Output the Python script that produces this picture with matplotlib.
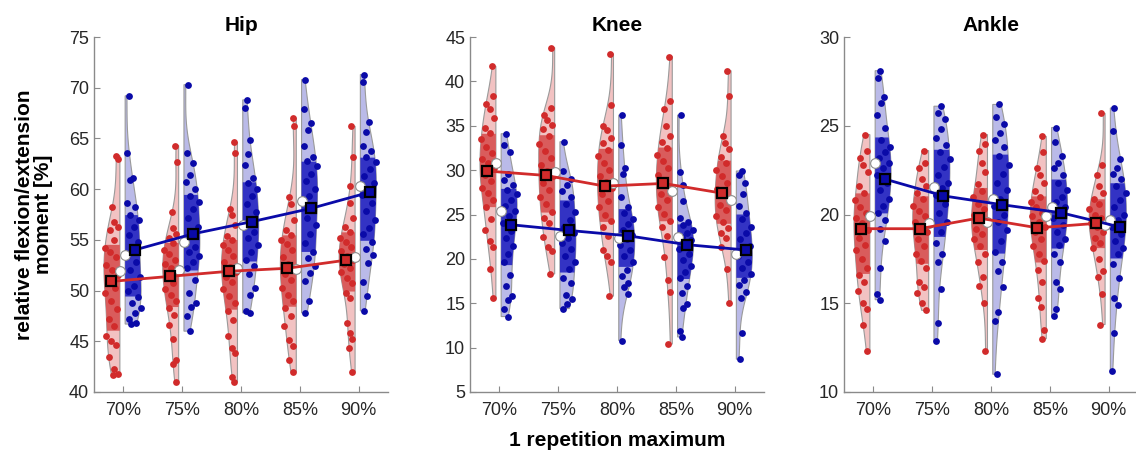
import numpy as np
import matplotlib.pyplot as plt

plt.rcParams['font.family'] = ['Liberation Sans', 'DejaVu Sans']

labels = ['70%', '75%', '80%', '85%', '90%']

# ---- Hip ----
hip_red = [
    [63.3, 63.0, 58.2, 56.8, 56.3, 56.0, 55.0, 54.2, 53.8, 53.3, 52.5, 52.0, 51.5, 51.0,
     50.3, 49.8, 49.0, 48.2, 47.2, 46.5, 45.5, 45.0, 44.6, 43.5, 42.3, 41.8, 41.7],
    [64.3, 62.7, 57.7, 56.2, 55.6, 55.2, 54.7, 54.0, 53.6, 53.0, 52.6, 52.2, 51.8, 51.3,
     50.7, 50.2, 49.6, 49.0, 48.3, 47.6, 46.6, 45.2, 43.2, 42.8, 41.0],
    [64.6, 63.6, 58.0, 57.5, 56.5, 55.4, 55.0, 54.5, 54.0, 53.4, 52.8, 52.3, 51.8, 51.3,
     50.8, 50.2, 49.5, 48.8, 48.0, 47.1, 45.5, 44.3, 43.8, 41.5, 41.0],
    [67.0, 66.2, 59.2, 58.5, 57.0, 56.0, 55.5, 55.0, 54.6, 54.0, 53.3, 52.6, 52.1, 51.6,
     51.0, 50.3, 49.6, 49.0, 48.3, 47.5, 46.5, 45.1, 44.5, 43.2, 42.0],
    [66.2, 63.2, 60.3, 58.6, 57.2, 56.3, 55.8, 55.2, 54.8, 54.3, 53.9, 53.4, 53.0, 52.6,
     52.2, 51.8, 51.2, 50.7, 49.8, 49.3, 46.8, 45.8, 45.2, 44.3, 42.0],
]
hip_blue = [
    [69.2, 63.6, 61.1, 60.9, 58.6, 58.2, 57.5, 57.0, 56.3, 55.5, 54.8, 54.0, 53.4, 52.8,
     52.0, 51.3, 50.5, 50.0, 49.4, 48.8, 48.3, 47.8, 47.2, 46.8, 46.7],
    [70.3, 63.6, 62.6, 61.4, 60.7, 60.0, 59.3, 58.7, 58.0, 57.2, 56.3, 55.5, 54.9, 54.3,
     53.8, 53.4, 52.8, 52.2, 51.0, 49.8, 48.8, 48.4, 47.5, 46.0],
    [68.8, 68.0, 64.8, 63.5, 62.4, 61.1, 60.6, 60.0, 59.3, 58.5, 57.7, 57.0, 56.4, 55.8,
     55.2, 54.5, 53.8, 53.0, 52.4, 51.6, 50.3, 49.6, 48.0, 47.8],
    [70.8, 67.9, 66.5, 65.8, 64.3, 63.2, 62.8, 62.3, 61.5, 60.8, 60.0, 59.3, 58.7, 58.0,
     57.2, 56.5, 55.6, 54.7, 53.8, 53.2, 52.4, 51.7, 50.9, 49.0, 47.8],
    [71.3, 70.6, 66.6, 65.6, 64.3, 63.8, 63.2, 62.7, 62.0, 61.3, 60.6, 60.0, 59.4, 58.6,
     57.8, 57.0, 56.2, 55.6, 54.8, 54.1, 53.5, 52.7, 50.8, 49.5, 48.0],
]
hip_red_mean = [50.9, 51.4, 51.9, 52.2, 53.0]
hip_blue_mean = [54.0, 55.6, 56.8, 58.1, 59.7]
hip_red_median = [51.9, 52.0, 52.2, 52.1, 53.3]
hip_blue_median = [53.5, 54.8, 56.5, 58.8, 60.3]

# ---- Knee ----
knee_red = [
    [41.7, 38.4, 37.4, 36.9, 35.9, 34.8, 34.2, 33.5, 32.6, 31.9, 31.2, 30.8, 30.2, 29.5,
     28.8, 28.0, 27.4, 26.6, 25.8, 24.5, 23.3, 22.0, 21.3, 18.9, 15.6],
    [43.8, 37.0, 36.2, 35.6, 35.1, 34.6, 33.8, 33.0, 32.2, 31.4, 30.6, 29.9, 29.3, 28.6,
     27.8, 27.0, 26.2, 25.3, 24.6, 24.0, 22.5, 21.3, 20.9, 18.3],
    [43.1, 37.3, 35.0, 34.5, 33.6, 33.1, 32.3, 31.6, 30.8, 30.0, 29.3, 28.7, 28.0, 27.3,
     26.5, 25.8, 25.0, 24.3, 23.6, 22.6, 21.0, 20.3, 19.6, 15.8],
    [42.8, 37.8, 36.9, 35.0, 33.8, 33.2, 32.5, 31.7, 31.0, 30.2, 29.4, 28.6, 27.9, 27.3,
     26.6, 25.9, 25.1, 24.3, 23.6, 22.6, 20.2, 17.6, 16.3, 10.4],
    [41.2, 38.3, 33.8, 33.1, 32.4, 31.5, 30.8, 30.0, 29.3, 28.6, 27.9, 27.3, 26.7, 26.1,
     25.5, 24.8, 24.2, 23.5, 22.9, 22.3, 21.3, 18.9, 15.0],
]
knee_blue = [
    [34.1, 32.8, 32.0, 29.6, 28.9, 28.3, 27.8, 27.3, 26.6, 26.0, 25.4, 24.8, 24.0, 23.1,
     22.3, 21.5, 20.5, 19.6, 18.2, 16.9, 15.8, 15.4, 14.4, 13.5],
    [33.2, 29.9, 29.0, 28.3, 27.7, 27.0, 26.2, 25.3, 24.4, 23.6, 22.9, 22.4, 21.8, 21.1,
     20.3, 19.6, 18.9, 17.9, 17.3, 15.9, 15.5, 14.9, 14.4],
    [36.2, 32.8, 30.2, 29.6, 27.0, 25.8, 25.2, 24.5, 23.9, 23.3, 22.7, 22.2, 21.6, 21.0,
     20.3, 19.6, 18.8, 18.1, 17.3, 16.8, 16.0, 10.8],
    [36.2, 29.8, 28.3, 26.5, 24.6, 24.2, 23.8, 23.3, 22.9, 22.5, 22.1, 21.6, 21.1, 20.5,
     19.9, 19.2, 18.5, 17.9, 17.0, 16.2, 14.9, 14.5, 11.9, 11.2],
    [29.9, 29.5, 28.5, 27.3, 26.0, 25.2, 24.5, 23.6, 22.9, 22.2, 21.5, 20.8, 20.3, 19.7,
     19.0, 18.3, 17.6, 17.1, 16.3, 15.6, 11.7, 8.7],
]
knee_red_mean = [29.9, 29.4, 28.2, 28.5, 27.4]
knee_blue_mean = [23.85, 23.2, 22.6, 21.6, 21.0]
knee_red_median = [30.75, 29.8, 28.6, 27.7, 26.6]
knee_blue_median = [25.4, 22.6, 22.3, 22.45, 20.6]

# ---- Ankle ----
ankle_red = [
    [24.5, 23.6, 23.2, 22.8, 22.4, 21.6, 21.2, 20.8, 20.4, 20.1, 19.8, 19.5, 19.1, 18.7,
     18.3, 18.0, 17.5, 17.0, 16.6, 16.2, 15.7, 15.0, 14.7, 13.8, 12.3],
    [23.6, 22.9, 22.6, 22.0, 21.6, 21.2, 20.9, 20.5, 20.2, 19.9, 19.6, 19.3, 19.0, 18.6,
     18.2, 17.8, 17.4, 17.0, 16.2, 15.9, 15.6, 15.0, 14.6],
    [24.5, 24.0, 23.6, 22.9, 22.4, 21.7, 21.3, 21.0, 20.6, 20.3, 20.0, 19.7, 19.5, 19.2,
     18.9, 18.6, 18.2, 17.8, 17.3, 16.5, 16.0, 15.0, 12.3],
    [24.4, 23.5, 22.6, 22.2, 21.8, 21.3, 21.0, 20.7, 20.4, 20.1, 19.9, 19.6, 19.3, 19.0,
     18.6, 18.2, 17.8, 17.4, 16.9, 16.2, 15.3, 14.8, 13.5, 13.0],
    [25.7, 22.8, 22.2, 21.6, 21.2, 20.9, 20.6, 20.3, 20.0, 19.8, 19.5, 19.3, 19.0, 18.7,
     18.4, 18.1, 17.5, 16.8, 16.5, 15.5, 13.8],
]
ankle_blue = [
    [28.1, 27.7, 26.6, 26.3, 25.6, 24.9, 24.2, 23.8, 23.5, 23.2, 22.9, 22.6, 22.2, 21.8,
     21.4, 20.9, 20.5, 20.1, 19.7, 19.2, 18.5, 17.0, 15.5, 15.2],
    [26.1, 25.7, 25.4, 24.8, 24.3, 23.9, 23.5, 23.1, 22.7, 22.2, 21.8, 21.5, 21.1, 20.6,
     20.1, 19.6, 19.0, 18.4, 17.8, 17.3, 15.8, 13.9, 12.9],
    [26.2, 25.5, 25.1, 24.6, 24.2, 23.8, 23.3, 22.8, 22.3, 21.8, 21.4, 20.9, 20.5, 20.0,
     19.6, 19.1, 18.5, 17.9, 17.3, 16.8, 15.9, 14.5, 14.0, 11.0],
    [24.9, 24.1, 23.3, 22.9, 22.6, 22.2, 21.8, 21.4, 21.0, 20.7, 20.4, 20.1, 19.8, 19.4,
     19.0, 18.6, 18.3, 17.8, 17.3, 16.2, 15.8, 14.7, 14.3],
    [26.0, 24.7, 23.1, 22.6, 22.3, 22.0, 21.6, 21.2, 20.8, 20.4, 20.0, 19.7, 19.3, 18.9,
     18.5, 18.1, 17.8, 17.2, 16.4, 15.3, 14.9, 13.3, 11.2],
]
ankle_red_mean = [19.2, 19.2, 19.8, 19.25, 19.5]
ankle_blue_mean = [22.0, 21.05, 20.55, 20.1, 19.3]
ankle_red_median = [19.9, 19.5, 19.55, 19.9, 19.4]
ankle_blue_median = [22.9, 21.55, 20.9, 20.4, 19.7]

# colours
red = (0.82, 0.17, 0.17)
blue = (0.04, 0.04, 0.66)
red_light = (0.95, 0.76, 0.76)
red_dark = (0.85, 0.36, 0.36)
blue_light = (0.73, 0.73, 0.91)
blue_dark = (0.2, 0.2, 0.77)
axis_gray = '#8a8a8a'


def kde(vals, grid):
    vals = np.asarray(vals)
    bw = 0.8 * 1.06 * vals.std() * len(vals) ** -0.2
    z = (grid[:, None] - vals[None, :]) / bw
    return np.exp(-0.5 * z ** 2).sum(axis=1)


def half_violin(ax, x0, vals, side, light, dark, dot):
    vals = np.asarray(vals)
    y = np.linspace(vals.min(), vals.max(), 200)
    w = kde(vals, y)
    w = w / w.max() * 0.27
    xs = x0 + side * w
    ax.fill(np.r_[x0, xs, x0], np.r_[y[0], y, y[-1]], facecolor=light,
            edgecolor='#9a9a9a', linewidth=0.8, zorder=1)
    q1, q3 = np.percentile(vals, [25, 75])
    m = (y >= q1) & (y <= q3)
    ax.fill(np.r_[x0, xs[m], x0], np.r_[y[m][0], y[m], y[m][-1]], facecolor=dark,
            edgecolor='none', zorder=2)
    # spread the dots across the half violin (fixed pattern)
    wv = np.interp(vals, y, w)
    u = np.mod((np.arange(len(vals)) + 1) * 0.618034, 1.0)
    xd = x0 + side * (0.02 + u * np.maximum(wv, 0.07))
    ax.scatter(xd, vals, s=24, color=dot, linewidths=0, zorder=3)


panels = [
    ('Hip', hip_red, hip_blue, hip_red_mean, hip_blue_mean, hip_red_median,
     hip_blue_median, (40, 75), np.arange(40, 76, 5), 94),
    ('Knee', knee_red, knee_blue, knee_red_mean, knee_blue_mean, knee_red_median,
     knee_blue_median, (5, 45), np.arange(5, 46, 5), 470),
    ('Ankle', ankle_red, ankle_blue, ankle_red_mean, ankle_blue_mean, ankle_red_median,
     ankle_blue_median, (10, 30), np.arange(10, 31, 5), 844),
]

W, H = 1136, 451
fig = plt.figure(figsize=(W / 100, H / 100), dpi=100)

x = np.arange(1, len(labels) + 1)
for k, (name, rd, bl, rmean, bmean, rmed, bmed, ylim, yt, left) in enumerate(panels):
    ax = fig.add_axes([left / W, (H - 392) / H, 294 / W, 355 / H])
    for i in range(len(labels)):
        half_violin(ax, x[i] - 0.06, rd[i], -1, red_light, red_dark, red)
        half_violin(ax, x[i] + 0.03, bl[i], 1, blue_light, blue_dark, blue)
    ax.plot(x - 0.06, rmed, 'o', ms=7, mfc='white', mec='#8c8c8c', mew=0.8, zorder=4)
    ax.plot(x + 0.03, bmed, 'o', ms=7, mfc='white', mec='#8c8c8c', mew=0.8, zorder=4)
    ax.plot(x - 0.21, rmean, '-', color=red, lw=2, zorder=5)
    ax.plot(x + 0.19, bmean, '-', color=blue, lw=2, zorder=5)
    ax.plot(x - 0.21, rmean, 's', ms=7.5, mfc=red, mec='black', mew=1.6, zorder=6)
    ax.plot(x + 0.19, bmean, 's', ms=7.5, mfc=blue, mec='black', mew=1.6, zorder=6)

    ax.set_xlim(0.5, 5.5)
    ax.set_ylim(*ylim)
    ax.set_yticks(yt)
    ax.set_xticks(x)
    ax.set_xticklabels(labels)
    for s in ['top', 'right']:
        ax.spines[s].set_visible(False)
    for s in ['left', 'bottom']:
        ax.spines[s].set_color(axis_gray)
        ax.spines[s].set_linewidth(1.0)
    ax.tick_params(direction='in', length=4, color=axis_gray, labelsize=13,
                   labelcolor='#262626')
    ax.tick_params(axis='x', pad=7)
    ax.set_title(name, fontsize=15, fontweight='bold', pad=4)
    if k == 0:
        ax.set_ylabel('relative flexion/extension\nmoment [%]', fontsize=15,
                      fontweight='bold', linespacing=1.0)
        ax.yaxis.set_label_coords(-0.14, 0.5)
    if k == 1:
        ax.set_xlabel('1 repetition maximum', fontsize=15, fontweight='bold', labelpad=9)

fig.savefig('out.png', dpi=100)
